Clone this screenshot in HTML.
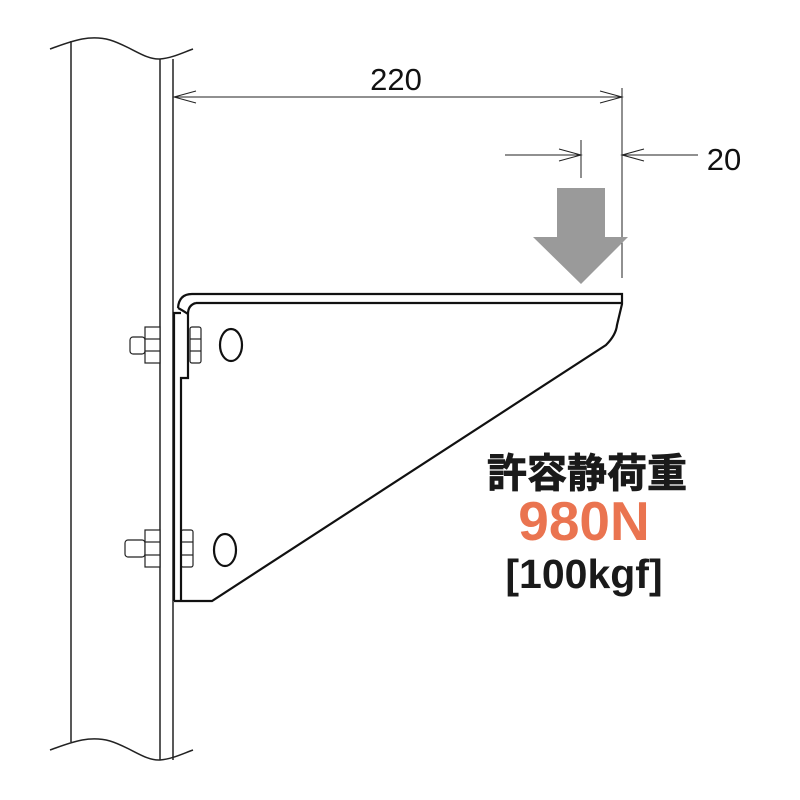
<!DOCTYPE html>
<html><head><meta charset="utf-8"><style>
html,body{margin:0;padding:0;background:#fff}
svg{display:block}
</style></head><body>
<svg width="800" height="800" viewBox="0 0 800 800" xmlns="http://www.w3.org/2000/svg">
<g fill="none" stroke="#222" stroke-width="1.5">
<path d="M50,49 C70,42 88,34 110,40 C130,46 145,60 160,59 C172,58 182,53 193,49"/>
<path d="M50,750 C70,743 88,735 110,741 C130,747 145,761 160,760 C172,759 182,754 193,750"/>
<line x1="71" y1="41" x2="71" y2="742"/>
<line x1="160" y1="59" x2="160" y2="760"/>
<line x1="173" y1="59" x2="173" y2="760"/>
<line x1="174" y1="97" x2="622" y2="97" stroke-width="1"/>
<path d="M196,91 L174,97 L196,103" stroke-width="1"/>
<path d="M600,91 L622,97 L600,103" stroke-width="1"/>
<line x1="622" y1="88" x2="622" y2="278" stroke-width="1"/>
<line x1="581" y1="140" x2="581" y2="178" stroke-width="1"/>
<line x1="505" y1="155" x2="581" y2="155" stroke-width="1"/>
<path d="M559,149 L581,155 L559,161" stroke-width="1"/>
<line x1="622" y1="155" x2="698" y2="155" stroke-width="1"/>
<path d="M644,149 L622,155 L644,161" stroke-width="1"/>
</g>
<polygon points="557,188 605,188 605,237 628,237 581,284 533,237 557,237" fill="#9a9a9a"/>
<g fill="#fff" stroke="#222" stroke-width="1.2">
<rect x="130" y="337" width="15" height="17" rx="3"/>
<rect x="145" y="327" width="15" height="36"/>
<line x1="145" y1="339" x2="160" y2="339"/><line x1="145" y1="351" x2="160" y2="351"/>
<rect x="190" y="327" width="11" height="36" rx="2"/>
<line x1="190" y1="339" x2="201" y2="339"/><line x1="190" y1="351" x2="201" y2="351"/>
<rect x="125" y="540" width="20" height="17" rx="3"/>
<rect x="145" y="530" width="15" height="37"/>
<line x1="145" y1="542" x2="160" y2="542"/><line x1="145" y1="555" x2="160" y2="555"/>
<rect x="181" y="530" width="12" height="37" rx="2"/>
<line x1="181" y1="542" x2="193" y2="542"/><line x1="181" y1="555" x2="193" y2="555"/>
</g>
<g fill="none" stroke="#111" stroke-width="2.2">
<path d="M174,601 L212,601 L606,345 Q616,335 617,325 L622,304 L622,294 L192,294 Q179,294 178,308"/>
<line x1="196" y1="303" x2="622" y2="303"/>
<path d="M196,303 Q188,305 188,314 L188,378 L181,378 L181,601"/>
<path d="M174,601 L174,313 L181,313"/>
<path d="M188,314 Q182,310 178,308"/>
<ellipse cx="231" cy="345" rx="11" ry="16"/>
<ellipse cx="225" cy="550" rx="11" ry="16"/>
</g>
<g font-family="'Liberation Sans','Noto Sans CJK JP',sans-serif" text-anchor="middle">
<text x="396" y="90" font-size="31" fill="#111">220</text>
<text x="724" y="170" font-size="31" fill="#111">20</text>
<text x="587" y="487" font-size="40" font-weight="bold" fill="#1a1a1a" stroke="#1a1a1a" stroke-width="0.8">許容静荷重</text>
<text x="584" y="540" font-size="55" font-weight="bold" fill="#ea7450">980N</text>
<text x="584" y="588" font-size="41" font-weight="bold" fill="#1a1a1a">[100kgf]</text>
</g>
</svg>
</body></html>
